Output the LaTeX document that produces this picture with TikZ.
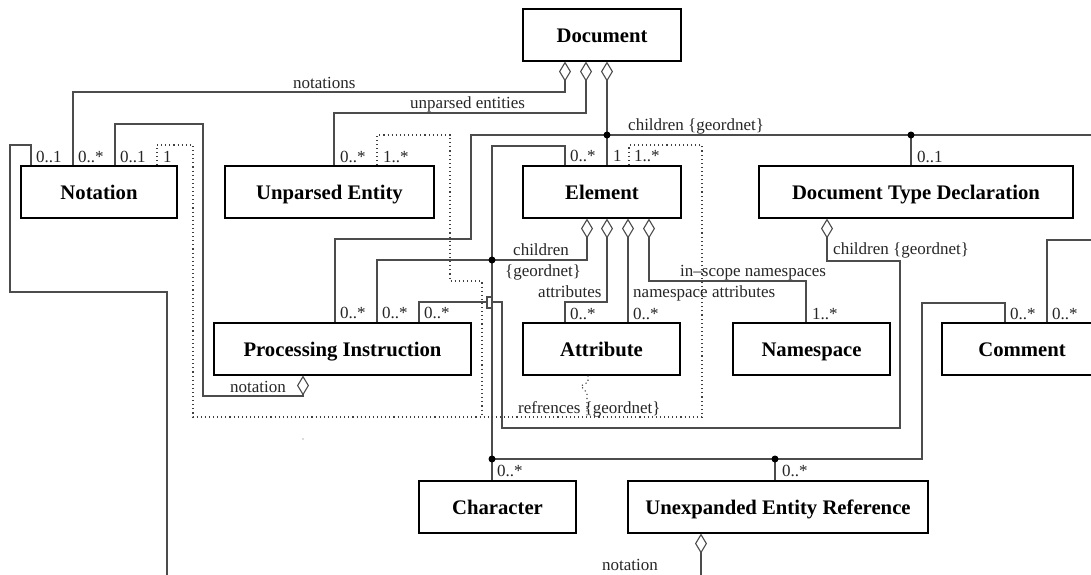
\documentclass[tikz,border=0pt]{standalone}
\usepackage{fontspec}
\setmainfont{Liberation Serif}
\usetikzlibrary{arrows.meta}
\begin{document}
\begin{tikzpicture}[x=1pt,y=-1pt,
  box/.style={draw=black, line width=1.1pt, inner sep=0pt, minimum height=52pt,
    font=\fontsize{20.7}{24}\selectfont\bfseries, text height=14.3pt, text depth=0pt},
  conn/.style={draw=black!70, line width=1.1pt},
  dep/.style={draw=black!75, line width=1.1pt, dash pattern=on 1.1pt off 3pt},
  agg/.style={conn, {Diamond[length=20pt,width=12pt,fill=white]}-},
  lbl/.style={anchor=base west, inner sep=0pt, font=\fontsize{17}{20}\selectfont, text=black!85},
]
\useasboundingbox (0,0) rectangle (1091,574);
\clip (0,0) rectangle (1091,574);

% boxes
\node[box, minimum width=158pt] (doc)  at (602,35)    {Document};
\node[box, minimum width=156pt] (nota) at (99,192)    {Notation};
\node[box, minimum width=209pt] (upe)  at (329.5,192) {Unparsed Entity};
\node[box, minimum width=158pt] (el)   at (602,192)   {Element};
\node[box, minimum width=314pt] (dtd)  at (916,192)   {Document Type Declaration};
\node[box, minimum width=257pt] (pi)   at (342.5,349) {Processing Instruction};
\node[box, minimum width=157pt] (attr) at (601.5,349) {Attribute};
\node[box, minimum width=157pt] (ns)   at (811.5,349) {Namespace};
\node[box, minimum width=160pt] (com)  at (1022,349)  {Comment};
\node[box, minimum width=157pt] (chr)  at (497.5,507) {Character};
\node[box, minimum width=300pt] (uer)  at (778,507)   {Unexpanded Entity Reference};

% junctions and off-page ends
\coordinate (j1) at (607,135);
\coordinate (j2) at (911,135);
\coordinate (j3) at (492,260);
\coordinate (j4) at (492,459);
\coordinate (j5) at (775,459);
\coordinate (hop) at (487,302);
\coordinate (offR1) at (1095,135);
\coordinate (offR2) at (1095,240);
\coordinate (offB1) at (167,580);
\coordinate (offB2) at (701,580);

% Document associations
\draw[agg] (doc.south -| 565,0) -- (565,92) -| (nota.north -| 73,0);
\draw[agg] (doc.south -| 586,0) -- (586,113) -| (upe.north -| 334,0);
\draw[agg] (doc.south -| 607,0) -- (j1) -- (el.north -| 607,0);
\draw[conn] (j1) -| (471,239) -| (pi.north -| 335,0);
\draw[conn] (j1) -- (j2) -- (offR1);
\draw[conn] (j2) -- (dtd.north -| 911,0);

% Element children
\draw[conn] (el.north -| 565,0) |- (492,146) -- (j3) -- (j4) -- (chr.north -| 492,0);
\draw[agg] (el.south -| 587,0) |- (j3);
\draw[conn] (j3) -| (pi.north -| 377,0);
\draw[conn] (j4) -- (j5) -| (922,303) -| (com.north -| 1005,0);
\draw[conn] (j5) -- (uer.north -| 775,0);

% Element attributes / namespaces
\draw[agg] (el.south -| 607,0) -- (607,302) -| (attr.north -| 565,0);
\draw[agg] (el.south -| 628,0) -- (attr.north -| 628,0);
\draw[agg] (el.south -| 649,0) -- (649,281) -| (ns.north -| 806,0);

% DTD children (with line hop)
\draw[agg] (dtd.south -| 827,0) -- (827,261) -| (900,428) -| (502,302) -- (492,302);
\draw[conn] (492,297) -- (487,297) -- (487,308) -- (492,308);
\draw[conn] (hop) -| (pi.north -| 419,0);

% notations
\draw[agg] (pi.south -| 303,0) -- (303,396) -| (203,124) -| (nota.north -| 115,0);
\draw[conn] (nota.north -| 31,0) -- (31,145) -| (10,292) -| (offB1);
\draw[agg] (uer.south -| 701,0) -- (offB2);
\draw[conn] (com.north -| 1047,0) |- (offR2);

% dotted dependencies
\draw[dep] (nota.north -| 157,0) -- (157,145) -| (193,417) -| (702,145) -| (el.north -| 629,0);
\draw[dep] (upe.north -| 377,0) -- (377,135) -| (450,281) -| (482,417);
\draw[dep] (attr.south -| 588,0) -- (588,382) -- (581,386) -- (587,393) -- (587,417);

\fill[black!60] (303,439) circle (0.7pt);
\foreach \j in {j1,j2,j3,j4,j5} \fill (\j) circle (3.5pt);

% labels
\node[lbl] at (293,88) {notations};
\node[lbl] at (410,108) {unparsed entities};
\node[lbl] at (628,130) {children \{geordnet\}};
\node[lbl] at (36,162) {0..1};
\node[lbl] at (78,162) {0..*};
\node[lbl] at (120,162) {0..1};
\node[lbl] at (163,162) {1};
\node[lbl] at (340,162) {0..*};
\node[lbl] at (383,162) {1..*};
\node[lbl] at (570,161) {0..*};
\node[lbl] at (613,161) {1};
\node[lbl] at (634,161) {1..*};
\node[lbl] at (917,162) {0..1};
\node[lbl] at (833,254) {children \{geordnet\}};
\node[lbl] at (513,255) {children};
\node[lbl] at (505,276) {\{geordnet\}};
\node[lbl] at (680,276) {in–scope namespaces};
\node[lbl] at (538,297) {attributes};
\node[lbl] at (633,297) {namespace attributes};
\node[lbl] at (570,319) {0..*};
\node[lbl] at (633,319) {0..*};
\node[lbl] at (812,319) {1..*};
\node[lbl] at (340,318) {0..*};
\node[lbl] at (382,318) {0..*};
\node[lbl] at (424,318) {0..*};
\node[lbl] at (1010,319) {0..*};
\node[lbl] at (1052,319) {0..*};
\node[lbl] at (230,392) {notation};
\node[lbl] at (518,413) {refrences \{geordnet\}};
\node[lbl] at (497,476) {0..*};
\node[lbl] at (782,476) {0..*};
\node[lbl] at (602,570) {notation};
\end{tikzpicture}
\end{document}
